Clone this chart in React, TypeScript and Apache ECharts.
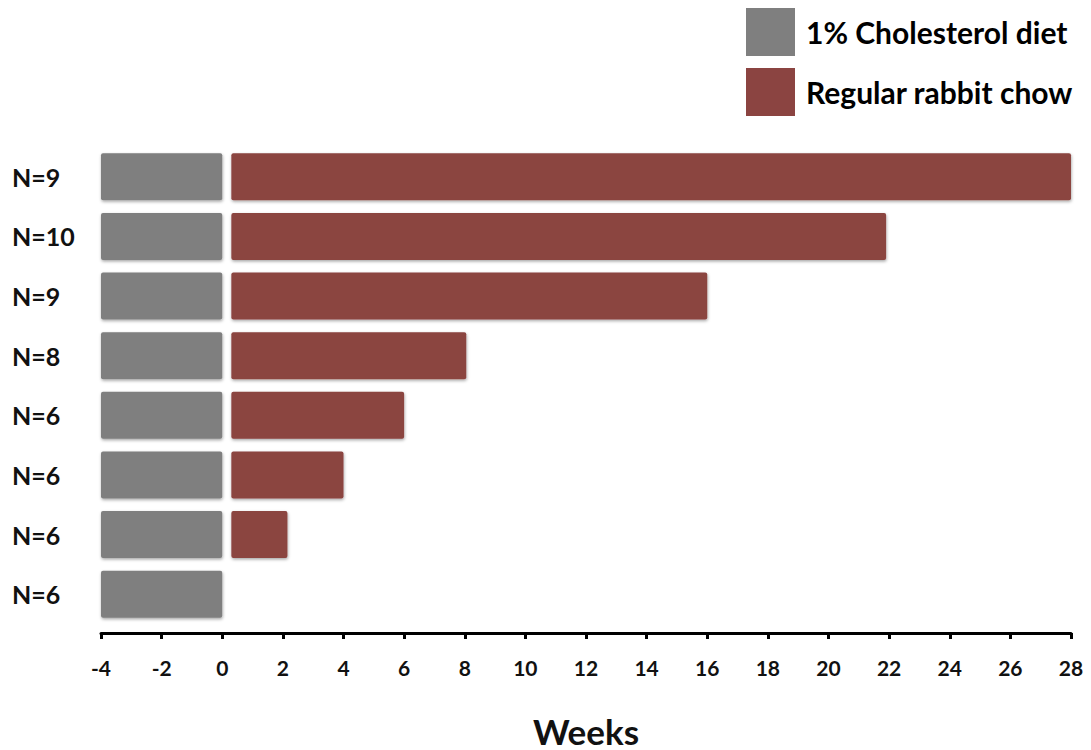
import React, { useEffect, useRef } from "react";
import * as echarts from "echarts";

const categories = ["N=9", "N=10", "N=9", "N=8", "N=6", "N=6", "N=6", "N=6"];
const cholesterolWeeks = [-4, -4, -4, -4, -4, -4, -4, -4];
const chowEndWeeks = [28, 21.9, 16, 8.05, 6, 4, 2.15, 0];
const chowStart = 0.3;
const xTicks = [-4, -2, 0, 2, 4, 6, 8, 10, 12, 14, 16, 18, 20, 22, 24, 26, 28];

const GREY = "#7f7f7f";
const RED = "#8b4441";

export default function App() {
  const ref = useRef<HTMLDivElement>(null);
  useEffect(() => {
    if (!ref.current) return;
    const chart = echarts.init(ref.current, null, { renderer: "svg" });
    const spacer = chowEndWeeks.map((v) => (v > 0 ? chowStart : 0));
    const chow = chowEndWeeks.map((v) => (v > 0 ? v - chowStart : 0));
    const shadow = {
      shadowBlur: 3,
      shadowColor: "rgba(0,0,0,0.35)",
      shadowOffsetY: 1.5,
      shadowOffsetX: 0.5,
    };
    chart.setOption({
      animation: false,
      textStyle: { fontFamily: "Lato" },
      legend: {
        data: ["1% Cholesterol diet", "Regular rabbit chow"],
        orient: "vertical",
        left: 746,
        top: 8,
        padding: 0,
        itemWidth: 49,
        itemHeight: 48,
        itemGap: 12,
        icon: "rect",
        textStyle: { fontSize: 30, fontWeight: "bold", color: "#000", fontFamily: "Lato", padding: [0, 0, 0, 6] },
        selectedMode: false,
      },
      grid: {
        left: 101,
        right: 20,
        top: 147,
        height: 477,
        containLabel: false,
        outerBoundsMode: "none",
      },
      xAxis: {
        type: "value",
        min: -4,
        max: 28,
        interval: 2,
        offset: 9,
        splitLine: { show: false },
        axisLine: { show: true, onZero: false, lineStyle: { color: "#000", width: 3 } },
        axisTick: { show: true, length: 6, lineStyle: { color: "#000", width: 3 } },
        axisLabel: {
          fontSize: 21,
          fontWeight: "bold",
          color: "#111",
          margin: 24,
          fontFamily: "Lato",
          customValues: xTicks,
        },
        name: "Weeks",
        nameLocation: "middle",
        nameGap: 80,
        nameTextStyle: { fontSize: 35, fontWeight: "bold", color: "#111", fontFamily: "Lato" },
      },
      yAxis: {
        type: "category",
        data: categories,
        inverse: true,
        axisLine: { show: false },
        axisTick: { show: false },
        axisLabel: {
          align: "left",
          margin: 89,
          fontSize: 25,
          fontWeight: "bold",
          color: "#111",
          fontFamily: "Lato",
        },
      },
      series: [
        {
          name: "1% Cholesterol diet",
          type: "bar",
          stack: "neg",
          data: cholesterolWeeks,
          barWidth: 47,
          itemStyle: { color: GREY, borderRadius: 2, ...shadow },
        },
        {
          name: "spacer",
          type: "bar",
          stack: "pos",
          data: spacer,
          barWidth: 47,
          itemStyle: { color: "rgba(0,0,0,0)" },
          silent: true,
        },
        {
          name: "Regular rabbit chow",
          type: "bar",
          stack: "pos",
          data: chow,
          barWidth: 47,
          barGap: "-100%",
          itemStyle: { color: RED, borderRadius: 2, ...shadow },
        },
      ],
    });
    return () => chart.dispose();
  }, []);
  return (
    <div
      ref={ref}
      style={{ position: "fixed", left: 0, top: 0, width: 1091, height: 750, background: "#fff" }}
    />
  );
}
